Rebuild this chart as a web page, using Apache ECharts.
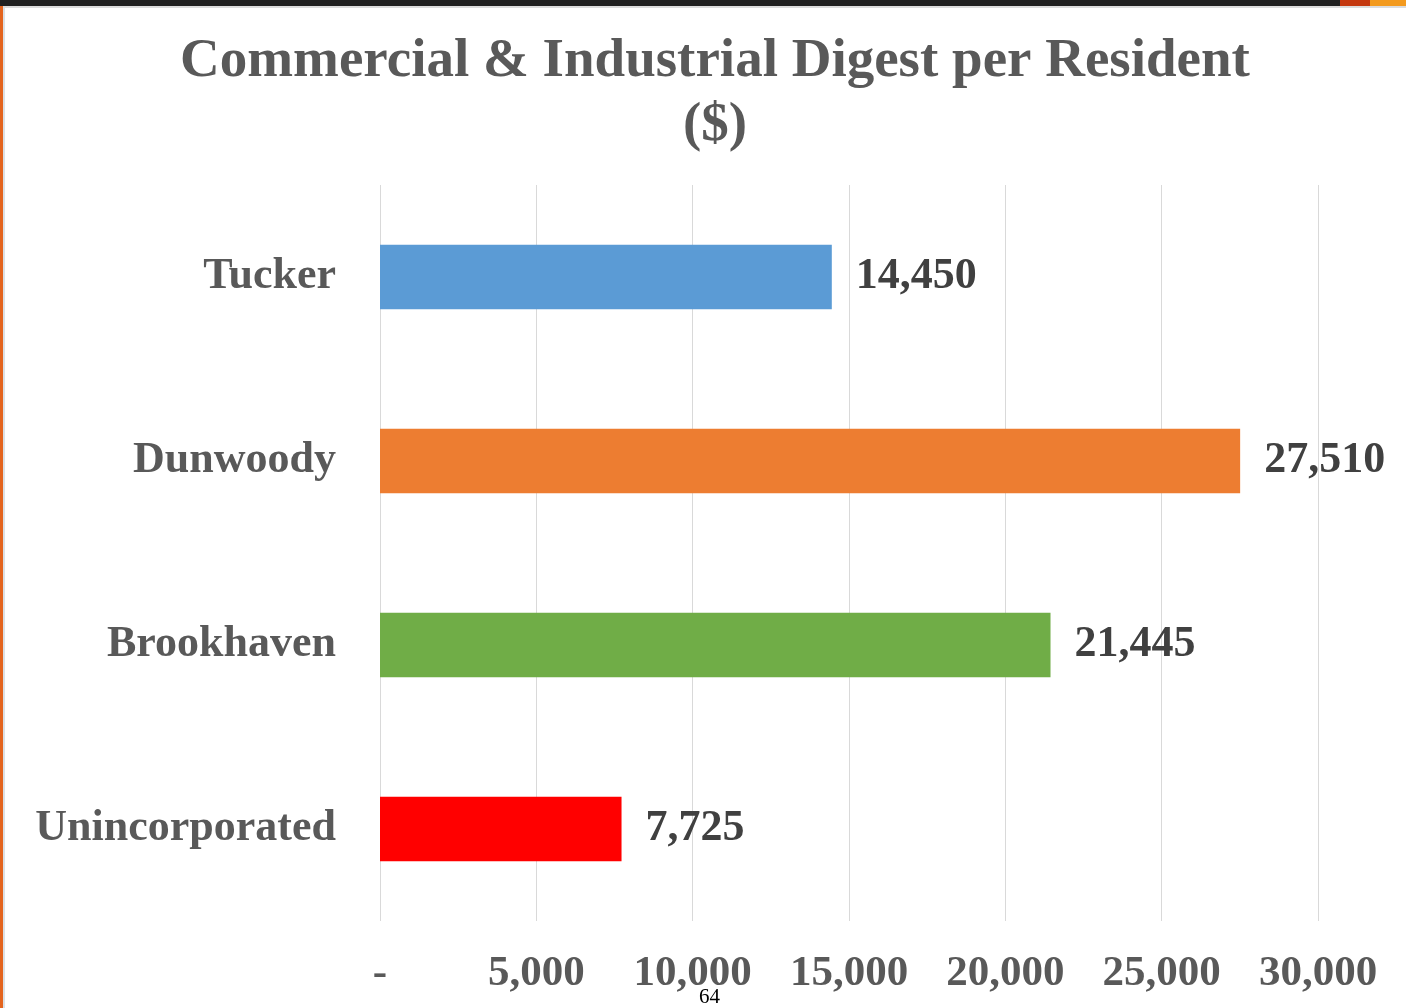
<!DOCTYPE html>
<html><head><meta charset="utf-8">
<script src="https://cdn.jsdelivr.net/npm/echarts@6/dist/echarts.min.js"></script>
<style>html,body{margin:0;padding:0;background:#fff}#c{width:1406px;height:1008px}</style>
</head><body><div id="c"></div>
<script>
const categories = ['Tucker', 'Dunwoody', 'Brookhaven', 'Unincorporated'];
const values = [14450, 27510, 21445, 7725];
const barColors = ['#5B9BD5', '#ED7D31', '#70AD47', '#FF0000'];
const tickLabels = {0: '-', 5000: '5,000', 10000: '10,000', 15000: '15,000', 20000: '20,000', 25000: '25,000', 30000: '30,000'};
const titleText = 'Commercial & Industrial Digest per Resident\n($)';
const pageNumber = '64';

const FONT = '"Liberation Serif", serif';
const chart = echarts.init(document.getElementById('c'));
chart.setOption({
  backgroundColor: '#fff',
  animation: false,
  title: {
    text: titleText, left: 710, top: 25, textAlign: 'center',
    textStyle: {fontFamily: FONT, fontWeight: 'bold', fontSize: 55, color: '#595959', lineHeight: 64}
  },
  grid: {left: 380, right: 88, top: 185, bottom: 87, containLabel: false},
  xAxis: {
    type: 'value', min: 0, max: 30000, interval: 5000,
    axisLine: {show: false}, axisTick: {show: false},
    splitLine: {lineStyle: {color: '#D9D9D9', width: 1}},
    axisLabel: {
      margin: 31, fontFamily: FONT, fontWeight: 'bold', fontSize: 43, color: '#595959',
      formatter: v => tickLabels[v] !== undefined ? tickLabels[v] : ''
    }
  },
  yAxis: {
    type: 'category', data: categories, inverse: true,
    axisLine: {show: false}, axisTick: {show: false},
    axisLabel: {margin: 44, fontFamily: FONT, fontWeight: 'bold', fontSize: 44, color: '#595959'}
  },
  series: [{
    type: 'bar', barWidth: '35%',
    data: values.map((v, i) => ({value: v, itemStyle: {color: barColors[i]}})),
    label: {
      show: true, position: 'right', distance: 24,
      fontFamily: FONT, fontWeight: 'bold', fontSize: 44, color: '#404040',
      formatter: p => p.value.toLocaleString('en-US')
    }
  }],
  graphic: [
    {type: 'rect', shape: {x: 0, y: 0, width: 1406, height: 6}, style: {fill: '#202020'}},
    {type: 'rect', shape: {x: 0, y: 6, width: 1406, height: 2}, style: {fill: '#DCDCDC'}},
    {type: 'rect', shape: {x: 1340, y: 0, width: 30, height: 6}, style: {fill: '#C4380E'}},
    {type: 'rect', shape: {x: 1370, y: 0, width: 36, height: 6}, style: {fill: '#F39A1E'}},
    {type: 'rect', shape: {x: 0, y: 6, width: 3, height: 1002}, style: {fill: '#E3641E'}},
    {type: 'rect', shape: {x: 3, y: 8, width: 2, height: 1000}, style: {fill: '#DCE0E4'}},
    {type: 'text', left: 699, top: 987, style: {text: pageNumber, fontFamily: FONT, fontSize: 21, fill: '#000'}}
  ]
});
</script></body></html>
